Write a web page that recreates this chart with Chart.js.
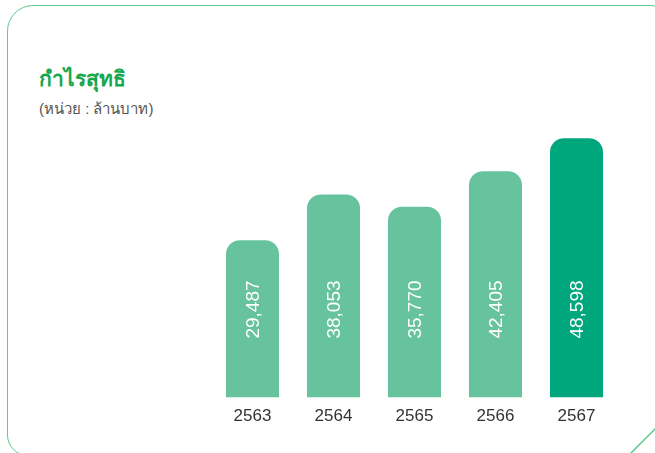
<!DOCTYPE html>
<html lang="th">
<head>
  <meta charset="UTF-8">
  <title>กำไรสุทธิ</title>
  <script src="https://cdn.jsdelivr.net/npm/chart.js"></script>
  <style>
    html, body { margin: 0; padding: 0; background: #fff; overflow: hidden; }
    .wrap { position: relative; width: 655px; height: 453px; overflow: hidden; }
    .card {
      position: absolute; left: 7px; top: 5px; width: 660px; height: 451px;
      border: 1.5px solid #5fca8e; border-radius: 26px 15px 21px 21px;
      box-sizing: border-box;
    }
    .deco { position: absolute; left: 0; top: 0; }
    .title {
      position: absolute; left: 39px; top: 62px; margin: 0;
      font: bold 21px "Noto Sans", "Liberation Sans", sans-serif; color: #17a74e;
    }
    .unit {
      position: absolute; left: 39px; top: 97px; margin: 0;
      font: 15px "Liberation Sans", "Noto Sans", sans-serif; color: #555;
    }
    #chart { position: absolute; left: 0; top: 0; }
  </style>
</head>
<body>
  <div class="wrap">
    <div class="card"></div>
    <svg class="deco" width="655" height="453">
      <line x1="656" y1="428" x2="630" y2="454" stroke="#5cc98a" stroke-width="1.5"/>
    </svg>
    <h3 class="title">กำไรสุทธิ</h3>
    <p class="unit">(หน่วย : ล้านบาท)</p>
    <canvas id="chart" width="655" height="453"></canvas>
  </div>

  <script>
    // data
    const years = ['2563', '2564', '2565', '2566', '2567'];
    const netProfit = [29487, 38053, 35770, 42405, 48598];
    const barColors = ['#66c39e', '#66c39e', '#66c39e', '#66c39e', '#00a77d'];

    // white rotated value inside each bar
    const valueLabels = {
      id: 'valueLabels',
      afterDatasetsDraw(chart) {
        const ctx = chart.ctx;
        const meta = chart.getDatasetMeta(0);
        ctx.save();
        ctx.fillStyle = '#ffffff';
        ctx.font = '19px "Liberation Sans", Arial, sans-serif';
        ctx.textAlign = 'left';
        ctx.textBaseline = 'middle';
        meta.data.forEach((bar, i) => {
          ctx.save();
          ctx.translate(bar.x, chart.chartArea.bottom - 59);
          ctx.rotate(-Math.PI / 2);
          ctx.fillText(netProfit[i].toLocaleString('en-US'), 0, 1);
          ctx.restore();
        });
        ctx.restore();
      }
    };

    new Chart(document.querySelector('#chart'), {
      type: 'bar',
      data: {
        labels: years,
        datasets: [{
          data: netProfit,
          backgroundColor: barColors,
          borderRadius: { topLeft: 14, topRight: 14 },
          borderSkipped: 'bottom',
          barPercentage: 0.655,
          categoryPercentage: 1
        }]
      },
      options: {
        responsive: false,
        animation: false,
        layout: { padding: { left: 212, right: 38, top: 120, bottom: 25 } },
        plugins: {
          legend: { display: false },
          tooltip: { enabled: false }
        },
        scales: {
          x: {
            grid: { display: false },
            border: { display: false },
            ticks: {
              color: '#333',
              padding: 1,
              font: { size: 17, family: '"Liberation Sans", Arial, sans-serif' }
            }
          },
          y: { display: false, min: 0, max: 52000 }
        }
      },
      plugins: [valueLabels]
    });
  </script>
</body>
</html>
